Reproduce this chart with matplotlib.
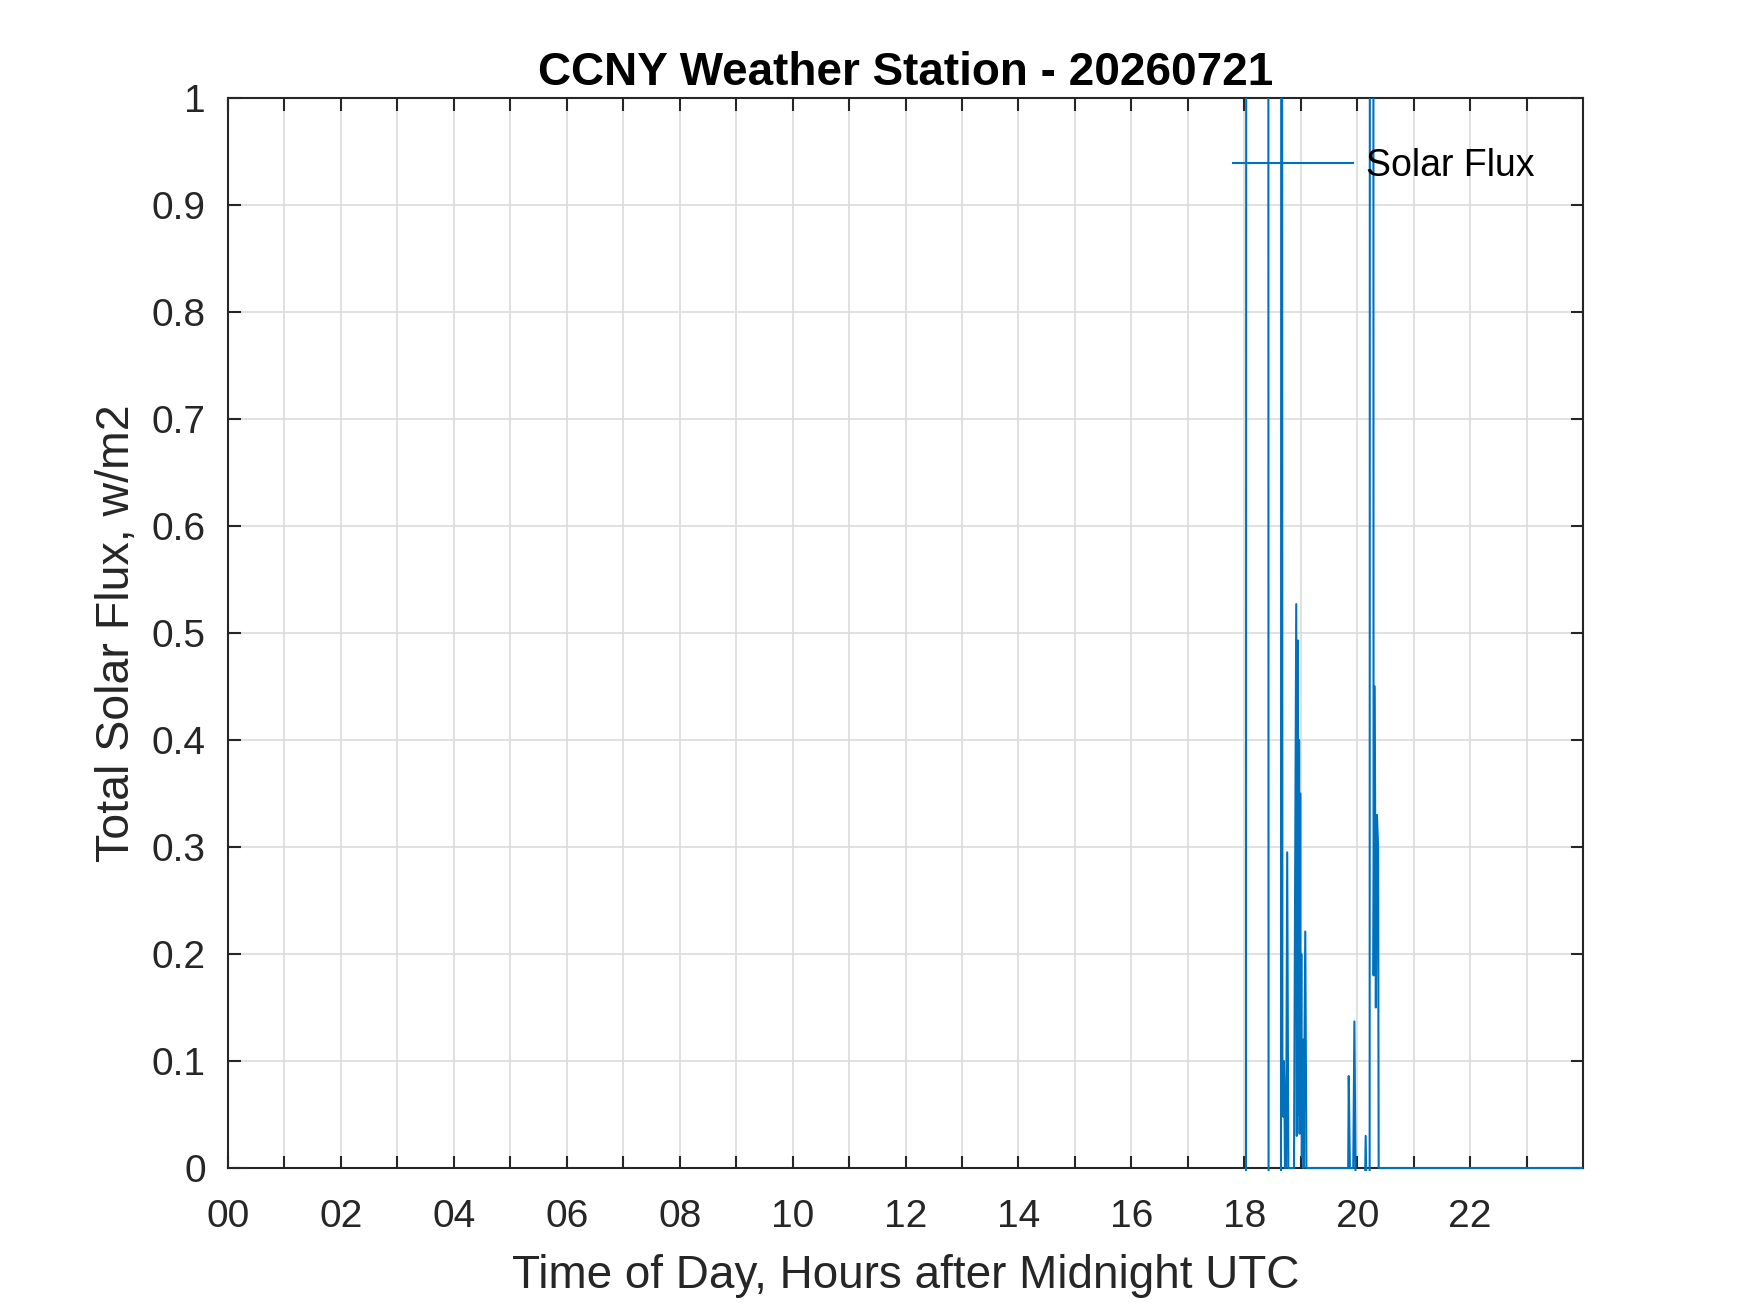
import matplotlib
matplotlib.use("Agg")
import matplotlib.pyplot as plt
from matplotlib.transforms import Bbox, TransformedBbox

# ---- data ----
hours = [0.00, 18.03, 18.04, 18.42, 18.43, 18.65, 18.66, 18.675, 18.685, 18.69,
         18.70, 18.71, 18.72, 18.74, 18.76, 18.78, 18.88, 18.92, 18.93, 18.95,
         18.96, 18.97, 18.98, 18.99, 19.00, 19.01, 19.02, 19.04, 19.05, 19.08,
         19.10, 19.84, 19.85, 19.87, 19.93, 19.95, 19.97, 19.98, 20.13, 20.15,
         20.17, 20.22, 20.23, 20.28, 20.29, 20.31, 20.33, 20.35, 20.37, 20.38,
         24.00]
flux = [-0.05, -0.05, 3.0, 3.0, -0.05, -0.05, 3.0, 0.05, 0.09, 0.048,
        0.10, 0.075, 0.0, 0.0, 0.295, 0.0, 0.0, 0.527, 0.03, 0.493,
        0.05, 0.40, 0.032, 0.35, 0.046, 0.20, 0.01, 0.12, 0.0, 0.221,
        0.0, 0.0, 0.086, 0.0, 0.0, 0.137, 0.0, -0.05, -0.05, 0.03,
        -0.05, -0.05, 3.0, 3.0, 0.18, 0.45, 0.15, 0.33, 0.30, 0.0,
        0.0]

x_ticks = list(range(0, 24))
x_tick_labels = ["%02d" % h if h % 2 == 0 else "" for h in x_ticks]
y_ticks = [0, 0.1, 0.2, 0.3, 0.4, 0.5, 0.6, 0.7, 0.8, 0.9, 1.0]
y_tick_labels = ["0", "0.1", "0.2", "0.3", "0.4", "0.5", "0.6", "0.7", "0.8", "0.9", "1"]

title = "CCNY Weather Station - 20260721"
xlabel = "Time of Day, Hours after Midnight UTC"
ylabel = "Total Solar Flux, w/m2"
series_name = "Solar Flux"

# ---- style ----
plt.rcParams['font.family'] = ['Liberation Sans', 'DejaVu Sans']
axis_gray = '#262626'
line_blue = '#0072BD'

fig = plt.figure(figsize=(17.5, 13.13), dpi=100)
ax = fig.add_axes([0.1303, 0.1104, 0.7743, 0.8150])

line, = ax.plot(hours, flux, color=line_blue, lw=1.5, zorder=3, label=series_name)
line.set_clip_box(TransformedBbox(Bbox([[0, -0.003], [1, 1]]), ax.transAxes))

ax.set_xlim(0, 24)
ax.set_ylim(0, 1)
ax.set_xticks(x_ticks)
ax.set_xticklabels(x_tick_labels)
ax.set_yticks(y_ticks)
ax.set_yticklabels(y_tick_labels)

ax.grid(True, color='#dcdcdc', lw=1.2, zorder=0)
ax.set_axisbelow(True)
for s in ax.spines.values():
    s.set_color(axis_gray)
    s.set_linewidth(1.5)
ax.tick_params(direction='in', length=9, width=1.5, color=axis_gray,
               labelcolor=axis_gray, labelsize=28, top=True, right=True)
ax.tick_params(axis='x', pad=22)
ax.tick_params(axis='y', pad=16)

ax.set_title(title, fontsize=33, fontweight='bold', pad=9, color='black')
ax.set_xlabel(xlabel, fontsize=33, color=axis_gray, labelpad=14)
ax.set_ylabel(ylabel, fontsize=33.5, color=axis_gray, labelpad=9)

leg = ax.legend(loc='center left', bbox_to_anchor=(0.7417, 0.936), frameon=False,
                fontsize=27, handlelength=3.2, handletextpad=0.35, borderpad=0,
                borderaxespad=0)

fig.savefig("out.png", dpi=100)
